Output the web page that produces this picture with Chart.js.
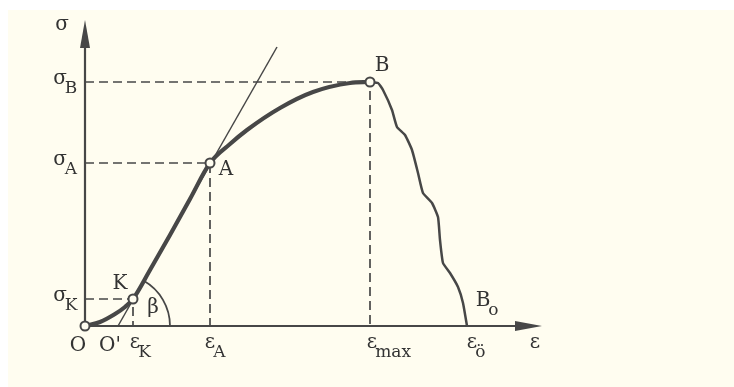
<!DOCTYPE html>
<html>
<head>
<meta charset="utf-8">
<script src="https://cdn.jsdelivr.net/npm/chart.js@4/dist/chart.umd.min.js"></script>
<style>
  html, body { margin: 0; padding: 0; background: #ffffff; }
  #wrap { width: 734px; height: 387px; }
</style>
</head>
<body>
<div id="wrap"><canvas id="myChart" width="734" height="387"></canvas></div>
<script>
// strain / stress of the loading curve (O -> K -> A -> B)
const curveStrain = [0, 15, 30, 40, 48, 65, 85, 105, 125, 145, 162, 195, 228, 265, 285];
const curveStress = [0, 4, 12, 19, 27, 56, 91, 127, 163, 182, 196, 218, 234, 243, 244];

// necking / rupture part (B -> Bo)
const dropStrain = [285, 293, 298, 307, 312, 320, 327, 333, 338, 347, 353, 355, 358, 365, 373, 378, 382];
const dropStress = [244, 243, 236, 216, 199, 191, 176, 153, 133, 123, 109, 86, 63, 53, 39, 23, 0];

// marked points
const pointNames = ["K", "A", "B"];
const pointStrain = [48, 125, 285];
const pointStress = [27, 163, 244];

// tangent line at K, through O'
const tangentStrain = [33, 192];
const tangentStress = [0, 279];

// axis ticks labels
const strainTickMain = ["O", "O'", "ε", "ε", "ε", "ε", "ε"];
const strainTickSub = ["", "", "K", "A", "max", "ö", ""];
const strainTickValues = [0, 33, 48, 125, 285, 382, 450];
const stressTickSub = ["B", "A", "K"];
const stressTickValues = [244, 163, 27];

const strainMax = 457;
const stressMax = 306;

const ink = "#474747";
const textInk = "#333333";
const paper = "#fffdf0";

const toXY = (xs, ys) => xs.map((x, i) => ({x: x, y: ys[i]}));

// dashed helper lines from the marked points to the axes
const guideSets = [];
pointNames.forEach((name, i) => {
    guideSets.push({
        data: [{x: 0, y: pointStress[i]}, {x: pointStrain[i], y: pointStress[i]}, {x: pointStrain[i], y: 0}],
        borderColor: ink, borderWidth: 1.7, borderDash: [9, 5],
        pointRadius: 0, showLine: true, order: 5,
    });
});

// paper + axes arrows + texts
const drawingPlugin = {
    id: "drawing",
    beforeDraw: (chart) => {
        const c = chart.ctx;
        c.save();
        c.fillStyle = "#ffffff";
        c.fillRect(0, 0, chart.width, chart.height);
        c.fillStyle = paper;
        c.fillRect(8, 10, chart.width - 8, chart.height - 10);
        c.restore();
    },
    afterDatasetsDraw: (chart) => {
        const c = chart.ctx;
        const xs = chart.scales.x;
        const ys = chart.scales.y;
        const px = (v) => xs.getPixelForValue(v);
        const py = (v) => ys.getPixelForValue(v);
        c.save();

        // arrow heads
        c.fillStyle = ink;
        c.beginPath();
        c.moveTo(px(0), py(stressMax));
        c.lineTo(px(0) - 5, py(stressMax) + 28);
        c.lineTo(px(0) + 5, py(stressMax) + 28);
        c.closePath();
        c.fill();
        c.beginPath();
        c.moveTo(px(strainMax), py(0));
        c.lineTo(px(strainMax) - 27, py(0) - 5);
        c.lineTo(px(strainMax) - 27, py(0) + 5);
        c.closePath();
        c.fill();

        // beta arc
        c.strokeStyle = ink;
        c.lineWidth = 1.8;
        c.beginPath();
        const ang = Math.atan2(py(tangentStress[1]) - py(0), px(tangentStrain[1]) - px(tangentStrain[0]));
        c.arc(px(tangentStrain[0]), py(0), 52, ang, 0);
        c.stroke();

        c.fillStyle = textInk;
        c.textBaseline = "middle";
        const big = "20px 'DejaVu Serif'";
        const small = "17px 'DejaVu Serif'";

        const label = (main, sub, x, y) => {
            c.font = big;
            c.textAlign = "center";
            c.fillText(main, x, y);
            if (sub) {
                const w = c.measureText(main).width;
                c.font = small;
                c.textAlign = "left";
                c.fillText(sub, x + w / 2 - 2, y + 10);
            }
        };

        // strain axis labels
        const strainShift = [-7, -8, 2, 0, 2, 5, 0];
        strainTickMain.forEach((m, i) => {
            const x = px(strainTickValues[i]) + strainShift[i];
            const y = py(0) + (m === "ε" ? 17 : 20);
            label(m, strainTickSub[i], x, y);
        });

        // stress axis labels
        stressTickSub.forEach((s, i) => {
            label("σ", s, px(0) - 25, py(stressTickValues[i]) - 3);
        });
        c.font = big;
        c.textAlign = "center";
        c.fillText("σ", px(0) - 23, py(stressMax) + 5);

        // point names
        const nameShift = [[-13, -15], [16, 7], [12, -16]];
        pointNames.forEach((n, i) => {
            c.font = big;
            c.textAlign = "center";
            c.fillText(n, px(pointStrain[i]) + nameShift[i][0], py(pointStress[i]) + nameShift[i][1]);
        });
        const last = dropStrain.length - 1;
        label("B", "o", px(dropStrain[last]) + 16, py(dropStress[last]) - 25);
        c.font = big;
        c.textAlign = "center";
        c.fillText("β", px(tangentStrain[0]) + 35, py(0) - 18);

        c.restore();
    }
};

const datasets = [
    {
        label: "curve",
        data: toXY(curveStrain, curveStress),
        borderColor: ink, borderWidth: 4.2, cubicInterpolationMode: "monotone",
        pointRadius: 0, showLine: true, order: 2,
    },
    {
        label: "drop",
        data: toXY(dropStrain, dropStress),
        borderColor: ink, borderWidth: 2.5, tension: 0.15,
        pointRadius: 0, showLine: true, order: 2,
    },
    {
        label: "tangent",
        data: toXY(tangentStrain, tangentStress),
        borderColor: ink, borderWidth: 1.5,
        pointRadius: 0, showLine: true, order: 3,
    },
    {
        label: "axes",
        data: [{x: 0, y: stressMax - 10}, {x: 0, y: 0}, {x: strainMax - 10, y: 0}],
        borderColor: ink, borderWidth: 2.2,
        pointRadius: 0, showLine: true, order: 4,
    },
    {
        label: "points",
        data: [{x: 0, y: 0}].concat(toXY(pointStrain, pointStress)),
        pointRadius: 4.5, pointBorderWidth: 2,
        pointBackgroundColor: paper, pointBorderColor: ink,
        showLine: false, order: 1,
    },
].concat(guideSets);

datasets.forEach((d) => { d.clip = false; });

const chart = new Chart(document.getElementById("myChart"), {
    type: "scatter",
    data: {datasets},
    options: {
        responsive: false,
        animation: false,
        layout: {padding: {left: 85, right: 192, top: 20, bottom: 61}},
        plugins: {legend: {display: false}, tooltip: {enabled: false}},
        scales: {
            x: {type: "linear", min: 0, max: strainMax, display: false},
            y: {type: "linear", min: 0, max: stressMax, display: false},
        },
    },
    plugins: [drawingPlugin],
});
</script>
</body>
</html>
